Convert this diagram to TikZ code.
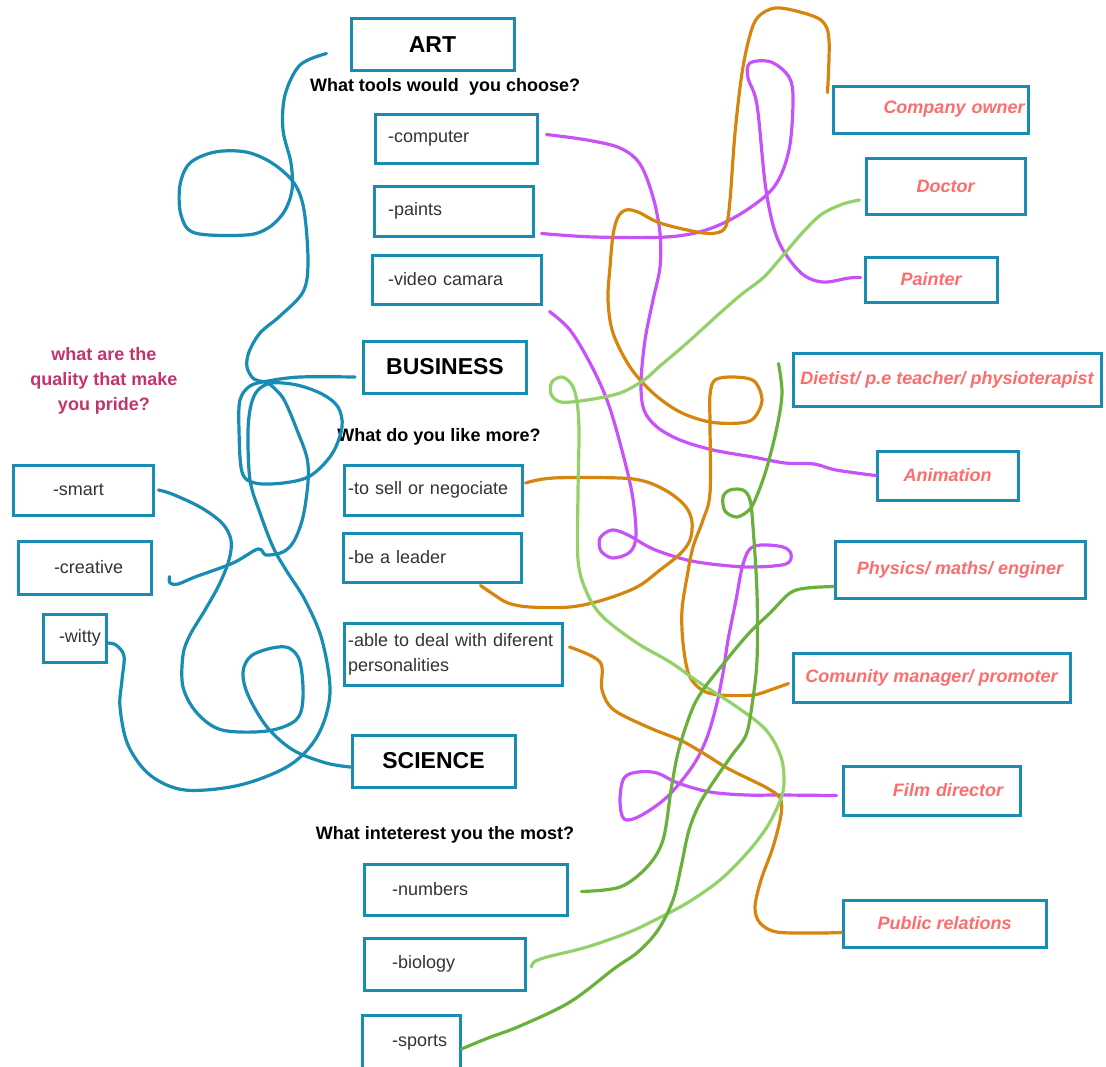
\documentclass[tikz,border=0pt]{standalone}
\usepackage{fontspec}
\setmainfont{Liberation Sans}
\usepackage{tikz}

\definecolor{boxblue}{RGB}{24,140,178}
\definecolor{jobred}{RGB}{255,108,108}
\definecolor{askred}{RGB}{196,52,108}
\definecolor{lilac}{RGB}{200,82,250}
\definecolor{amber}{RGB}{214,134,14}
\definecolor{lime}{RGB}{146,210,105}
\definecolor{leaf}{RGB}{104,178,60}

\exhyphenpenalty=10000

\tikzset{box/.style = {draw=boxblue, line width=1.5pt, inner ysep=0pt}}
\tikzset{head/.style = {box, font=\fontsize{11.5}{13}\selectfont\bfseries, minimum width=81.5pt, minimum height=26pt}}
\tikzset{item/.style 2 args = {box, font=\fontsize{9}{12.5}\selectfont, text=black!80, align=left, text width=#1, inner xsep=#2}}
\tikzset{job/.style = {box, font=\fontsize{9}{11}\selectfont\bfseries\itshape, text=jobred, inner xsep=1pt}}
\tikzset{ask/.style = {font=\fontsize{9}{12.5}\selectfont\bfseries}}
\tikzset{wire/.style = {line width=1.6pt, line cap=round, line join=round}}
\tikzset{scrawl/.style = {wire, smooth, tension=0.55}}

\begin{document}
\begin{tikzpicture}[x=0.5pt, y=-0.5pt]
    \useasboundingbox (0, 0) rectangle (1106, 1066);

    \begin{scope}
        \node [head] (art)      at (432.5, 44.5) {ART};
        \node [head] (business) at (445, 367)    {BUSINESS};
        \node [head] (science)  at (433.5, 761)  {SCIENCE};

        \node [ask] (tools)    at (445, 87)  {What tools would\ \ you choose?};
        \node [ask] (likemore) at (439, 437) {What do you like more?};
        \node [ask] (interest) at (445, 835) {What inteterest you the most?};
        \node [ask, text=askred, align=center] (pride) at (104, 381) {what are the\\quality that make\\you pride?};
    \end{scope}

    \begin{scope}
        \node [item={68pt}{6.5pt}, minimum height=24.5pt]  (computer) at (456, 138.5)  {-computer};
        \node [item={65.5pt}{7pt}, minimum height=25pt]    (paints)   at (453.5, 211)  {-paints};
        \node [item={68.5pt}{8pt}, minimum height=24.5pt]  (video)    at (456.5, 279.5) {-video camara};

        \node [item={85pt}{2pt}, minimum height=25pt]      (sell)     at (433, 490)    {-to sell or negociate};
        \node [item={84pt}{2.5pt}, minimum height=24.5pt]  (leader)   at (432, 557.5)  {-be a leader};
        \node [item={105pt}{2pt}, minimum height=31pt]     (able)     at (453, 654)    {-able to deal with diferent\\personalities};

        \node [item={73.5pt}{14pt}, minimum height=25.5pt] (numbers)  at (465.5, 889.5) {-numbers};
        \node [item={52.5pt}{14pt}, minimum height=26pt]   (biology)  at (444.5, 964)  {-biology};
        \node [item={19pt}{15pt}, minimum height=28pt]     (sports)   at (411, 1043)   {-sports};

        \node [item={30pt}{20pt}, minimum height=25pt]     (smart)    at (83, 490)     {-smart};
        \node [item={30.5pt}{18pt}, minimum height=26.5pt] (creative) at (84.5, 567.5) {-creative};
        \node [item={15.5pt}{8pt}, minimum height=24pt]    (witty)    at (74.5, 638)   {-witty};
    \end{scope}

    \begin{scope}
        \node [job, align=right, text width=94pt, inner xsep=1.75pt, minimum height=23.5pt] (company) at (930.5, 109.5) {Company owner};
        \node [job, minimum width=79.5pt, minimum height=28pt]   (doctor)    at (945.5, 186)   {Doctor};
        \node [job, minimum width=66pt, minimum height=22.5pt]   (painter)   at (931, 279.5)   {Painter};
        \node [job, minimum width=154pt, minimum height=26.5pt]  (dietist)   at (947, 379.5)   {Dietist/ p.e teacher/ physioterapist};
        \node [job, minimum width=70.5pt, minimum height=24.5pt] (animation) at (947.5, 475.5) {Animation};
        \node [job, minimum width=125pt, minimum height=28.5pt]  (physics)   at (960, 569.5)   {Physics/ maths/ enginer};
        \node [job, minimum width=138.5pt, minimum height=24.5pt] (community) at (931.5, 677.5) {Comunity manager/ promoter};
        \node [job, align=right, text width=71.5pt, inner xsep=8.5pt, minimum height=24.5pt] (film) at (931.5, 790.5) {Film director};
        \node [job, minimum width=101.5pt, minimum height=23.5pt] (public)   at (944.5, 923.5) {Public relations};
    \end{scope}

    \draw [scrawl, boxblue] plot coordinates {([xshift=-11.5pt,yshift=-4.5pt]art.west) (300, 65) (285, 95) (283, 130) (291, 163) (292, 190) (284, 212) (268, 228) (246, 235) (195, 233) (181, 215) (180, 185) (190, 163) (215, 152) (246, 152) (272, 163) (294, 183) (304, 210) (308, 262) (303, 292) (280, 316) (260, 333) (249, 352) (247, 367) (254, 379) (267, 382)};
    \draw [scrawl, boxblue] plot coordinates {([xshift=-3.5pt,yshift=-5pt]business.west) (300, 377) (268, 381) (250, 386) (240, 400) (239, 430) (242, 472) (255, 483) (283, 483) (310, 476) (332, 454) (342, 427) (338, 407) (322, 394) (297, 385) (272, 383) (258, 390) (251, 405) (248, 432) (250, 480) (260, 513) (273, 547) (286, 570) (305, 600) (322, 640) (330, 693) (318, 735) (290, 765) (240, 785) (185, 790) (150, 775) (128, 745) (120, 707) (122, 680) (124, 656) (116, 645) ([yshift=-2.5pt]witty.east)};
    \draw [scrawl, boxblue] plot coordinates {([xshift=8.5pt,yshift=-4.5pt]creative.east) (170, 583) (178, 584) (195, 577) (233, 563) (258, 549) (266, 555) (283, 552) (294, 541) (303, 517) (308, 482) (307, 458) (297, 430) (283, 398) (267, 382)};
    \draw [scrawl, boxblue] plot coordinates {([xshift=2pt]smart.east) (172, 494) (200, 507) (222, 523) (231, 540) (229, 560) (219, 585) (205, 610) (190, 635) (183, 655) (183, 687) (197, 713) (222, 730) (267, 731) (296, 720) (303, 698) (300, 662) (289, 648) (272, 648) (251, 656) (243, 672) (248, 695) (267, 727) (293, 750) (326, 763) ([yshift=-3pt]science.west)};

    \draw [scrawl, lilac] plot coordinates {([xshift=4pt,yshift=2pt]computer.east) (587, 140) (620, 148) (640, 164) (653, 197) (660, 233) (660, 267) (653, 300) (645, 340) (641, 383) (644, 410) (657, 427) (680, 440) (713, 450) (753, 457) (785, 463) (814, 464) (836, 470) (animation.west)};
    \draw [scrawl, lilac] plot coordinates {([xshift=3.5pt,yshift=2pt]paints.south east) (594, 237) (666, 237) (706, 230) (742, 213) (774, 187) (789, 150) (793, 100) (789, 77) (771, 62) (750, 63) (748, 78) (757, 105) (766, 190) (778, 240) (800, 272) (822, 282) (849, 278) ([xshift=-1.5pt,yshift=1pt]painter.west)};
    \draw [scrawl, lilac] plot coordinates {([xshift=3.5pt,yshift=-3pt]video.south east) (570, 330) (590, 363) (607, 400) (620, 443) (632, 493) (636, 535) (630, 552) (613, 558) (601, 551) (600, 538) (612, 530) (628, 535) (653, 549) (687, 560) (720, 565) (753, 567) (786, 564) (791, 554) (783, 547) (761, 545) (749, 550) (742, 568) (736, 600) (728, 640) (723, 673) (716, 707) (706, 740) (692, 767) (667, 797) (640, 816) (624, 819) (620, 800) (624, 778) (638, 772) (657, 773) (678, 783) (710, 792) (747, 795) (780, 795) ([xshift=-2.5pt,yshift=-2.5pt]film.west)};

    \draw [scrawl, amber] plot coordinates {([xshift=-2pt,yshift=8.5pt]company.west) (829, 40) (822, 21) (800, 12) (775, 8) (758, 17) (750, 35) (742, 73) (735, 133) (730, 200) (726, 226) (716, 233) (697, 232) (660, 223) (638, 212) (626, 210) (618, 217) (613, 235) (610, 267) (608, 300) (613, 333) (630, 367) (653, 393) (680, 412) (710, 422) (740, 423) (754, 418) (762, 400) (754, 381) (733, 377) (715, 380) (710, 395) (710, 425) (710, 493) (703, 520) (693, 547) (687, 577) (682, 610) (683, 643) (689, 675) (702, 690) (720, 695) (753, 695) (773, 689) ([xshift=-1.5pt,yshift=-3pt]community.west)};
    \draw [scrawl, amber] plot coordinates {([xshift=1pt,yshift=3.5pt]sell.east) (553, 478) (620, 478) (647, 482) (670, 493) (686, 507) (692, 522) (690, 540) (680, 554) (660, 570) (637, 587) (603, 600) (570, 607) (530, 607) (508, 603) (493, 594) ([xshift=-21pt,yshift=-1pt]leader.south east)};
    \draw [scrawl, amber] plot coordinates {([xshift=3pt,yshift=3.5pt]able.east) (600, 662) (602, 690) (614, 710) (650, 728) (680, 740) (703, 753) (727, 768) (747, 778) (767, 788) (780, 798) (781, 815) (773, 847) (761, 880) (755, 907) (760, 923) (777, 932) (817, 933) ([yshift=-4.5pt]public.west)};

    \draw [scrawl, lime] plot coordinates {([xshift=-2.5pt,yshift=-7pt]doctor.west) (843, 204) (822, 214) (804, 231) (785, 253) (764, 277) (742, 294) (720, 313) (687, 343) (660, 366) (644, 380) (620, 393) (587, 400) (561, 402) (551, 394) (552, 382) (562, 377) (572, 385) (577, 402) (579, 432) (578, 493) (578, 560) (587, 593) (603, 617) (637, 643) (670, 662) (700, 683) (737, 707) (766, 730) (781, 757) (784, 783) (780, 801) (767, 827) (747, 853) (720, 880) (687, 903) (653, 921) (627, 933) (587, 947) (547, 957) (534, 962) ([xshift=2.5pt,yshift=-1.5pt]biology.east)};

    \draw [scrawl, leaf] plot coordinates {([xshift=-6.5pt,yshift=8pt]dietist.west) (782, 393) (777, 427) (767, 467) (758, 493) (750, 509) (737, 517) (725, 511) (723, 497) (730, 490) (743, 490) (750, 500) (753, 527) (757, 593) (757, 660) (752, 705) (746, 735) (732, 755) (716, 778) (700, 803) (689, 830) (681, 867) (673, 900) (658, 930) (638, 952) (615, 968) (570, 1002) (520, 1026) (488, 1038) ([yshift=-3pt]sports.east)};
    \draw [scrawl, leaf] plot coordinates {([yshift=-8.5pt]physics.west) (807, 588) (790, 593) (770, 613) (752, 630) (737, 647) (720, 668) (705, 687) (694, 705) (684, 732) (677, 757) (671, 790) (663, 840) (647, 867) (620, 887) ([xshift=6.5pt,yshift=-1pt]numbers.east)};
\end{tikzpicture}
\end{document}
